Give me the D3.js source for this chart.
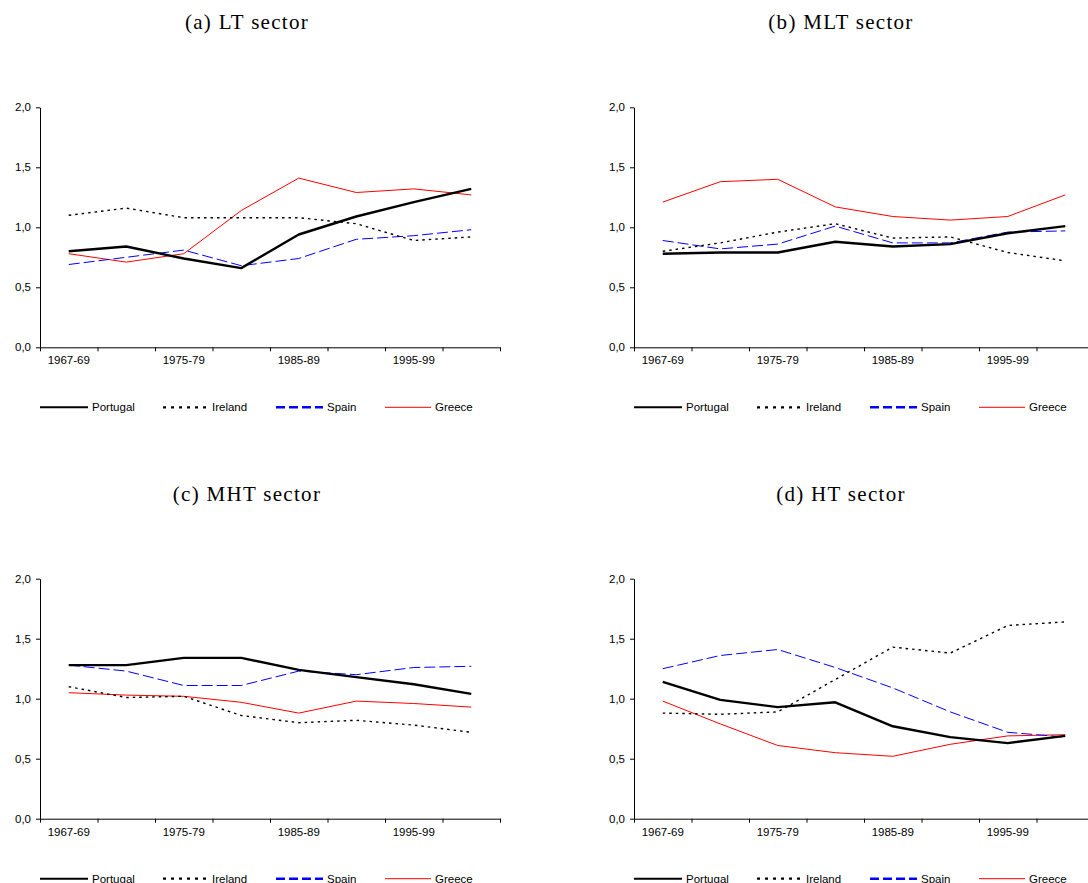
<!DOCTYPE html>
<html>
<head>
<meta charset="utf-8">
<script src="https://cdn.jsdelivr.net/npm/d3@7"></script>
<style>
  body { margin: 0; background: #fff; }
  svg { display: block; }
</style>
</head>
<body>
<div id="chart"></div>
<script>
// categories on the x axis, only every other one gets a label
var categories = ["1967-69", "1970-74", "1975-79", "1980-84", "1985-89", "1990-94", "1995-99", "2000-02"];
var tickLabels = ["1967-69", "1975-79", "1985-89", "1995-99"];
var yTicks = [0, 0.5, 1, 1.5, 2];
var countries = ["Portugal", "Ireland", "Spain", "Greece"];

// (a) LT sector
var ltPortugal = [0.80, 0.84, 0.74, 0.66, 0.94, 1.09, 1.21, 1.32];
var ltIreland  = [1.10, 1.16, 1.08, 1.08, 1.08, 1.03, 0.89, 0.92];
var ltSpain    = [0.69, 0.75, 0.81, 0.68, 0.74, 0.90, 0.93, 0.98];
var ltGreece   = [0.78, 0.71, 0.78, 1.14, 1.41, 1.29, 1.32, 1.27];

// (b) MLT sector
var mltPortugal = [0.78, 0.79, 0.79, 0.88, 0.84, 0.86, 0.95, 1.01];
var mltIreland  = [0.80, 0.87, 0.96, 1.03, 0.91, 0.92, 0.79, 0.72];
var mltSpain    = [0.89, 0.82, 0.86, 1.01, 0.87, 0.87, 0.96, 0.97];
var mltGreece   = [1.21, 1.38, 1.40, 1.17, 1.09, 1.06, 1.09, 1.27];

// (c) MHT sector
var mhtPortugal = [1.28, 1.28, 1.34, 1.34, 1.24, 1.18, 1.12, 1.04];
var mhtIreland  = [1.10, 1.01, 1.02, 0.86, 0.80, 0.82, 0.78, 0.72];
var mhtSpain    = [1.28, 1.23, 1.11, 1.11, 1.23, 1.20, 1.26, 1.27];
var mhtGreece   = [1.05, 1.03, 1.02, 0.97, 0.88, 0.98, 0.96, 0.93];

// (d) HT sector
var htPortugal = [1.14, 0.99, 0.93, 0.97, 0.77, 0.68, 0.63, 0.69];
var htIreland  = [0.88, 0.87, 0.89, 1.16, 1.43, 1.38, 1.61, 1.64];
var htSpain    = [1.25, 1.36, 1.41, 1.26, 1.09, 0.89, 0.72, 0.68];
var htGreece   = [0.98, 0.79, 0.61, 0.55, 0.52, 0.62, 0.69, 0.70];

var width = 1088, height = 883;
var plotW = 460, plotH = 240;

// line styles per country (plot / legend)
var styles = {
  Portugal: {color: "#000", w: 2.4, dash: null,    lw: 2,   ldash: null},
  Ireland:  {color: "#000", w: 1.4, dash: "2.5,4", lw: 2.2, ldash: "3,5"},
  Spain:    {color: "#0000ff", w: 1, dash: "11,4", lw: 2.4, ldash: "9,4"},
  Greece:   {color: "#ff0000", w: 1, dash: null,    lw: 1,   ldash: null}
};

var panels = [
  {title: "(a) LT sector",  x: 40,  y: 107.3, series: [ltPortugal, ltIreland, ltSpain, ltGreece]},
  {title: "(b) MLT sector", x: 634, y: 107.3, series: [mltPortugal, mltIreland, mltSpain, mltGreece]},
  {title: "(c) MHT sector", x: 40,  y: 578.7, series: [mhtPortugal, mhtIreland, mhtSpain, mhtGreece]},
  {title: "(d) HT sector",  x: 634, y: 578.7, series: [htPortugal, htIreland, htSpain, htGreece]}
];

var legendPos = [
  {line: [0, 48],    text: 52},
  {line: [123, 167], text: 172},
  {line: [236, 283], text: 287},
  {line: [345, 391], text: 395}
];

var svg = d3.select("#chart").append("svg")
  .attr("width", width)
  .attr("height", height);

var xScale = d3.scaleBand().domain(categories).range([0, plotW]);
var xEdge = d3.scaleLinear().domain([0, categories.length]).range([0, plotW]);
var yScale = d3.scaleLinear().domain([0, 2]).range([plotH, 0]);

var line = d3.line()
  .x(function (d, i) { return xScale(categories[i]) + xScale.bandwidth() / 2; })
  .y(function (d) { return yScale(d); });

var fmt = function (d) { return d3.format(".1f")(d).replace(".", ","); };

panels.forEach(function (p) {
  var g = svg.append("g").attr("transform", "translate(" + p.x + "," + p.y + ")");

  svg.append("text")
    .attr("x", p.x + 207)
    .attr("y", p.y - 78)
    .attr("text-anchor", "middle")
    .style("font-family", "'Liberation Serif', serif")
    .style("font-size", "21px")
    .style("letter-spacing", "1.3px")
    .text(p.title);

  // y axis
  var yAxis = g.append("g")
    .call(d3.axisLeft(yScale).tickValues(yTicks).tickFormat(fmt).tickSize(4).tickSizeOuter(0).tickPadding(5));

  // x axis: ticks at category edges, labels at every other category
  var xTicks = g.append("g")
    .attr("transform", "translate(0," + plotH + ")")
    .call(d3.axisBottom(xEdge).tickValues(d3.range(categories.length + 1)).tickSize(4).tickSizeOuter(0).tickFormat(""));

  var xLabels = g.append("g")
    .attr("transform", "translate(0," + plotH + ")")
    .call(d3.axisBottom(xScale).tickValues(tickLabels).tickSize(0).tickPadding(9));
  xLabels.select(".domain").remove();

  [yAxis, xTicks, xLabels].forEach(function (a) {
    a.selectAll("path, line").attr("stroke", "#000").attr("stroke-width", 1);
    a.selectAll("text")
      .style("font-family", "'Liberation Sans', Arial, sans-serif")
      .style("font-size", "11.5px")
      .attr("fill", "#000");
  });

  // series, drawn back to front
  [3, 2, 1, 0].forEach(function (k) {
    var s = styles[countries[k]];
    g.append("path")
      .datum(p.series[k])
      .attr("d", line)
      .attr("fill", "none")
      .attr("stroke", s.color)
      .attr("stroke-width", s.w)
      .attr("stroke-dasharray", s.dash)
      .attr("stroke-linejoin", "round");
  });

  // legend
  var lg = g.append("g").attr("transform", "translate(0," + (plotH + 60) + ")");
  countries.forEach(function (c, k) {
    var s = styles[c];
    lg.append("line")
      .attr("x1", legendPos[k].line[0])
      .attr("x2", legendPos[k].line[1])
      .attr("stroke", s.color)
      .attr("stroke-width", s.lw)
      .attr("stroke-dasharray", s.ldash);
    lg.append("text")
      .attr("x", legendPos[k].text)
      .attr("y", 4)
      .style("font-family", "'Liberation Sans', Arial, sans-serif")
      .style("font-size", "11.5px")
      .text(c);
  });
});
</script>
</body>
</html>
